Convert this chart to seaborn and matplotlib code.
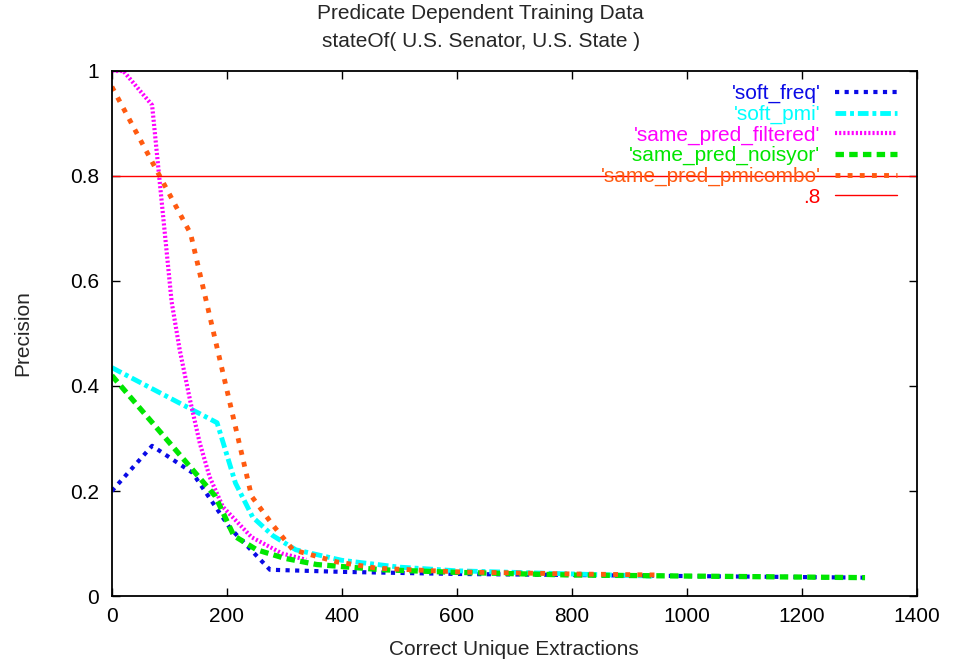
import matplotlib
matplotlib.use("Agg")
import matplotlib.pyplot as plt
import seaborn as sns
import pandas as pd

# Precision vs. number of correct unique extractions for each training method
soft_freq_x = [0, 70, 140, 205, 275, 400, 600, 800, 1000, 1310]
soft_freq_y = [0.20, 0.286, 0.235, 0.13, 0.05, 0.046, 0.042, 0.040, 0.038, 0.035]

soft_pmi_x = [0, 183, 215, 245, 280, 320, 400, 500, 600, 700, 800, 940]
soft_pmi_y = [0.435, 0.33, 0.215, 0.15, 0.115, 0.088, 0.068, 0.055, 0.048, 0.045, 0.042, 0.038]

filtered_x = [0, 20, 70, 104, 118, 136, 153, 170, 193, 243, 296, 338]
filtered_y = [1.0, 1.0, 0.935, 0.56, 0.469, 0.373, 0.291, 0.227, 0.17, 0.112, 0.081, 0.069]

noisyor_x = [0, 180, 212, 252, 300, 356, 470, 600, 800, 1000, 1310]
noisyor_y = [0.42, 0.19, 0.115, 0.088, 0.072, 0.06, 0.05, 0.045, 0.040, 0.038, 0.035]

pmicombo_x = [0, 137, 243, 280, 315, 391, 461, 600, 800, 950]
pmicombo_y = [0.97, 0.69, 0.19, 0.135, 0.088, 0.065, 0.053, 0.046, 0.042, 0.040]

threshold = 0.8

series = [
    ("'soft_freq'", soft_freq_x, soft_freq_y, "#0a0ae6", 3.0, (0, (1, 1.3))),
    ("'soft_pmi'", soft_pmi_x, soft_pmi_y, "#00ffff", 3.5, (0, (2.2, 0.8, 0.8, 0.8))),
    ("'same_pred_filtered'", filtered_x, filtered_y, "#ff00ff", 3.0, (0, (0.5, 0.5))),
    ("'same_pred_noisyor'", noisyor_x, noisyor_y, "#00e600", 3.8, (0, (1.6, 1.0))),
    ("'same_pred_pmicombo'", pmicombo_x, pmicombo_y, "#ff5a10", 3.5, (0, (1, 1.5))),
]

FS = 15

sns.set_theme(style="ticks")
plt.rcParams["font.family"] = ["Liberation Sans", "DejaVu Sans"]
plt.rcParams["xtick.direction"] = "in"
plt.rcParams["ytick.direction"] = "in"

fig = plt.figure(figsize=(9.56, 6.64), dpi=100)
ax = fig.add_axes([0.117, 0.1024, 0.842, 0.7907])

for label, xs, ys, color, lw, ls in series:
    df = pd.DataFrame({"x": xs, "y": ys})
    sns.lineplot(data=df, x="x", y="y", ax=ax, color=color, lw=lw,
                 linestyle=ls, label=label, estimator=None, sort=False)

ax.axhline(threshold, color="#ff0000", lw=1.0, label=".8")

ax.set_xlim(0, 1400)
ax.set_ylim(0, 1)
ax.set_xticks(range(0, 1401, 200))
ax.set_yticks([0, 0.2, 0.4, 0.6, 0.8, 1.0])
ax.set_yticklabels(["0", "0.2", "0.4", "0.6", "0.8", "1"])
ax.tick_params(axis="both", which="major", length=6, width=1.0, labelsize=FS,
               top=True, right=True, colors="black")
ax.tick_params(axis="y", pad=9)
ax.tick_params(axis="x", pad=8)
for sp in ax.spines.values():
    sp.set_linewidth(1.3)
    sp.set_color("black")

ax.set_xlabel("Correct Unique Extractions", fontsize=FS, labelpad=10)
ax.set_ylabel("Precision", fontsize=FS, labelpad=27)

fig.text(0.503, 0.979, "Predicate Dependent Training Data", ha="center", va="center", fontsize=FS)
fig.text(0.503, 0.937, "stateOf( U.S. Senator, U.S. State )", ha="center", va="center", fontsize=FS)

leg = ax.legend(loc="upper right", bbox_to_anchor=(0.976, 0.975), frameon=False,
                markerfirst=False, labelcolor="linecolor",
                handlelength=3.0, handletextpad=0.7, labelspacing=0.07,
                borderpad=0, borderaxespad=0,
                prop={"family": ["Liberation Sans", "DejaVu Sans"], "size": FS})

fig.savefig("out.png", dpi=100)
